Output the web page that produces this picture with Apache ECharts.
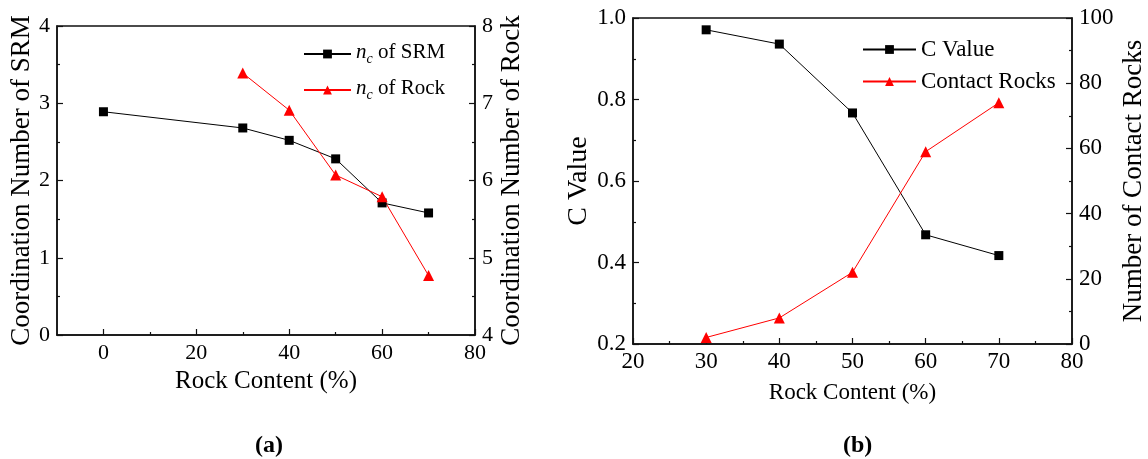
<!DOCTYPE html>
<html lang="en">
<head>
    <meta charset="UTF-8">
    <title>Rock content charts</title>
    <script src="https://cdn.jsdelivr.net/npm/echarts@6/dist/echarts.min.js"></script>
    <style>
        body { margin: 0; background: #fff; }
        #chartmain { width: 1148px; height: 459px; }
    </style>
</head>
<body>
<div id="chartmain"></div>
<script>
    // (a) coordination number
    var rockContentSRM = [0, 30, 40, 50, 60, 70];
    var ncSRM = [2.89, 2.68, 2.52, 2.28, 1.71, 1.58];
    var rockContentRock = [30, 40, 50, 60, 70];
    var ncRock = [7.39, 6.91, 6.07, 5.79, 4.77];
    var majorTicksA = [0, 20, 40, 60, 80];
    var minorTicksA = [10, 30, 50, 70];

    // (b) C value and contact rocks
    var rockContentB = [30, 40, 50, 60, 70];
    var cValue = [0.971, 0.936, 0.767, 0.468, 0.417];
    var contactRocks = [2, 8, 22, 59, 74];

    var namesA = ['n_c of SRM', 'n_c of Rock'];
    var namesB = ['C Value', 'Contact Rocks'];

    function pairs(xs, ys) {
        return xs.map(function (x, i) { return [x, ys[i]]; });
    }

    var FONT = 'Liberation Serif';
    var AX = '#111';

    function yAxis(grid, pos, min, max, step, fs, name, gap, nfs, fmt) {
        return {
            type: 'value', gridIndex: grid, position: pos, min: min, max: max, interval: step,
            name: name, nameLocation: 'middle', nameGap: gap,
            nameTextStyle: {fontFamily: FONT, fontSize: nfs, color: '#000'},
            axisLine: {show: true, onZero: false, lineStyle: {color: AX, width: 1.5}},
            axisTick: {show: true, inside: true, length: 6, lineStyle: {color: AX, width: 1.2}},
            minorTick: {show: true, splitNumber: 2, length: 3, lineStyle: {color: AX, width: 1.2}},
            axisLabel: {fontFamily: FONT, fontSize: fs, color: '#000', margin: 7, formatter: fmt},
            splitLine: {show: false}
        };
    }

    var legendRich = {
        i: {fontFamily: FONT, fontStyle: 'italic', fontSize: 21, lineHeight: 24, verticalAlign: 'top', color: '#000'},
        s: {fontFamily: FONT, fontStyle: 'italic', fontSize: 14, lineHeight: 14, padding: [12, 0, 0, 0], verticalAlign: 'bottom', color: '#000'},
        t: {fontFamily: FONT, fontSize: 21, lineHeight: 24, verticalAlign: 'top', color: '#000'}
    };

    var capRich = {
        p: {fontFamily: FONT, fontSize: 24, color: '#000'},
        b: {fontFamily: FONT, fontSize: 24, fontWeight: 'bold', color: '#000'}
    };

    var option = {
        animation: false,
        backgroundColor: '#fff',
        title: [
            {text: '{p|(}{b|a}{p|)}', left: 250, top: 429, textStyle: {rich: capRich}},
            {text: '{p|(}{b|b}{p|)}', left: 838, top: 429, textStyle: {rich: capRich}}
        ],
        grid: [
            {left: 57, right: 673, top: 26, bottom: 124, show: true, borderColor: AX, borderWidth: 1.5},
            {left: 633, right: 75, top: 18, bottom: 115, show: true, borderColor: AX, borderWidth: 1.5}
        ],
        legend: [
            {
                data: namesA, orient: 'vertical', left: 298, top: 35, itemWidth: 47, itemHeight: 11, itemGap: 10,
                textStyle: {rich: legendRich},
                formatter: function (name) {
                    return '{i|n}{s|c}{t|' + name.replace('n_c', '') + '}';
                }
            },
            {
                data: namesB, orient: 'vertical', left: 857, top: 33, itemWidth: 53, itemHeight: 11, itemGap: 9,
                textStyle: {fontFamily: FONT, fontSize: 23, color: '#000'}
            }
        ],
        xAxis: [
            {
                type: 'value', gridIndex: 0, min: -10, max: 80, interval: 10,
                name: 'Rock Content (%)', nameLocation: 'middle', nameGap: 34,
                nameTextStyle: {fontFamily: FONT, fontSize: 25, color: '#000'},
                axisLine: {show: true, onZero: false, lineStyle: {color: AX, width: 1.5}},
                axisTick: {show: true, inside: true, length: 6, customValues: majorTicksA, lineStyle: {color: AX, width: 1.2}},
                axisLabel: {fontFamily: FONT, fontSize: 22, color: '#000', margin: 7, customValues: majorTicksA},
                splitLine: {show: false}
            },
            {
                type: 'value', gridIndex: 0, min: -10, max: 80, interval: 10, position: 'bottom',
                axisLine: {show: false, onZero: false},
                axisTick: {show: true, inside: true, length: 3, customValues: minorTicksA, lineStyle: {color: AX, width: 1.2}},
                axisLabel: {show: false},
                splitLine: {show: false}
            },
            {
                type: 'value', gridIndex: 1, min: 20, max: 80, interval: 10,
                name: 'Rock Content (%)', nameLocation: 'middle', nameGap: 37,
                nameTextStyle: {fontFamily: FONT, fontSize: 23, color: '#000'},
                axisLine: {show: true, onZero: false, lineStyle: {color: AX, width: 1.5}},
                axisTick: {show: true, inside: true, length: 6, lineStyle: {color: AX, width: 1.2}},
                minorTick: {show: true, splitNumber: 2, length: 3, lineStyle: {color: AX, width: 1.2}},
                axisLabel: {fontFamily: FONT, fontSize: 23, color: '#000', margin: 6},
                splitLine: {show: false}
            }
        ],
        yAxis: [
            yAxis(0, 'left', 0, 4, 1, 22, 'Coordination Number of SRM', 22, 27),
            yAxis(0, 'right', 4, 8, 1, 22, 'Coordination Number of Rock', 23, 27),
            yAxis(1, 'left', 0.2, 1.0, 0.2, 23, 'C Value', 40, 28, function (v) { return v.toFixed(1); }),
            yAxis(1, 'right', 0, 100, 20, 23, 'Number of Contact Rocks', 48, 27)
        ],
        series: [
            {
                name: namesA[0], type: 'line', xAxisIndex: 0, yAxisIndex: 0,
                data: pairs(rockContentSRM, ncSRM),
                symbol: 'rect', symbolSize: 9,
                lineStyle: {color: '#000', width: 1}, itemStyle: {color: '#000'}
            },
            {
                name: namesA[1], type: 'line', xAxisIndex: 0, yAxisIndex: 1,
                data: pairs(rockContentRock, ncRock),
                symbol: 'triangle', symbolSize: 11,
                lineStyle: {color: '#ff0000', width: 1}, itemStyle: {color: '#ff0000'}
            },
            {
                name: namesB[0], type: 'line', xAxisIndex: 2, yAxisIndex: 2,
                data: pairs(rockContentB, cValue),
                symbol: 'rect', symbolSize: 9,
                lineStyle: {color: '#000', width: 1}, itemStyle: {color: '#000'}
            },
            {
                name: namesB[1], type: 'line', xAxisIndex: 2, yAxisIndex: 3,
                data: pairs(rockContentB, contactRocks),
                symbol: 'triangle', symbolSize: 11,
                lineStyle: {color: '#ff0000', width: 1}, itemStyle: {color: '#ff0000'}
            }
        ]
    };

    var myChart = echarts.init(document.getElementById('chartmain'));
    myChart.setOption(option);
</script>
</body>
</html>
